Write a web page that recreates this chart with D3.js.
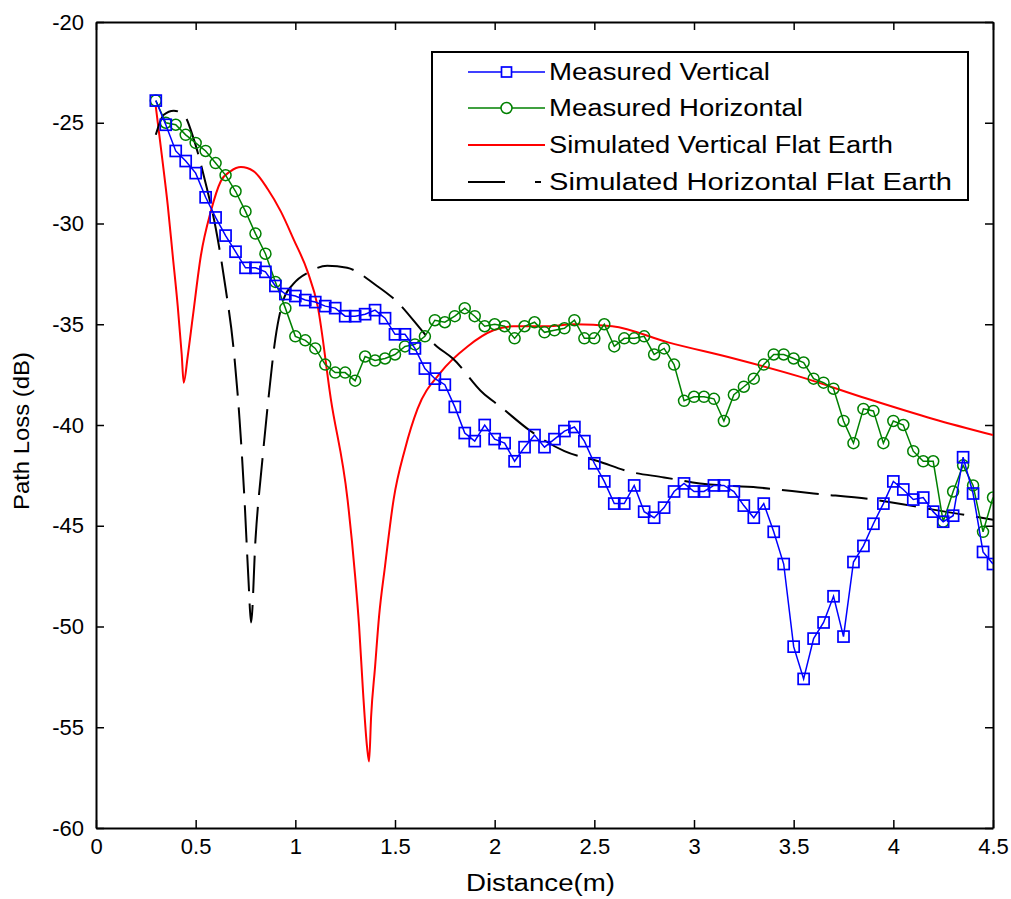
<!DOCTYPE html>
<html>
<head>
<meta charset="utf-8">
<script src="https://cdn.jsdelivr.net/npm/d3@7"></script>
<style>
  html, body { margin: 0; padding: 0; background: #fff; }
  svg text { font-family: "Liberation Sans", Arial, sans-serif; fill: #000; }
</style>
</head>
<body>
<svg id="chart" width="1011" height="899"></svg>
<script>
// ---------------- data ----------------
const xTicks = [0, 0.5, 1, 1.5, 2, 2.5, 3, 3.5, 4, 4.5];
const yTicks = [-60, -55, -50, -45, -40, -35, -30, -25, -20];

const measuredDistance = [0.30,0.35,0.40,0.45,0.50,0.55,0.60,0.65,0.70,0.75,0.80,0.85,0.90,0.95,1.00,1.05,1.10,1.15,1.20,1.25,1.30,1.35,1.40,1.45,1.50,1.55,1.60,1.65,1.70,1.75,1.80,1.85,1.90,1.95,2.00,2.05,2.10,2.15,2.20,2.25,2.30,2.35,2.40,2.45,2.50,2.55,2.60,2.65,2.70,2.75,2.80,2.85,2.90,2.95,3.00,3.05,3.10,3.15,3.20,3.25,3.30,3.35,3.40,3.45,3.50,3.55,3.60,3.65,3.70,3.75,3.80,3.85,3.90,3.95,4.00,4.05,4.10,4.15,4.20,4.25,4.30,4.35,4.40,4.45,4.50];

const measuredVertical = [-23.9,-25.1,-26.4,-26.9,-27.5,-28.7,-29.7,-30.6,-31.4,-32.2,-32.2,-32.4,-33.1,-33.5,-33.6,-33.8,-33.9,-34.1,-34.2,-34.6,-34.6,-34.5,-34.3,-34.7,-35.5,-35.5,-36.2,-37.2,-37.7,-38.0,-39.1,-40.4,-40.8,-40.0,-40.7,-40.9,-41.8,-41.1,-40.5,-41.1,-40.7,-40.3,-40.1,-40.8,-41.9,-42.8,-43.9,-43.9,-43.0,-44.3,-44.6,-44.1,-43.3,-42.9,-43.3,-43.3,-43.0,-43.0,-43.3,-44.0,-44.6,-43.9,-45.3,-46.9,-51.0,-52.6,-50.6,-49.8,-48.5,-50.5,-46.8,-46.0,-44.9,-43.9,-42.8,-43.2,-43.7,-43.6,-44.3,-44.8,-44.5,-41.6,-43.4,-46.3,-46.9];

const measuredHorizontal = [-23.9,-25.0,-25.1,-25.6,-26.0,-26.4,-27.0,-27.6,-28.4,-29.4,-30.5,-31.5,-32.9,-34.2,-35.6,-35.8,-36.2,-37.0,-37.4,-37.4,-37.8,-36.6,-36.8,-36.7,-36.5,-36.1,-36.0,-35.6,-34.8,-34.9,-34.6,-34.2,-34.6,-35.1,-35.0,-35.1,-35.7,-35.1,-34.9,-35.4,-35.3,-35.2,-34.8,-35.7,-35.7,-35.0,-36.1,-35.7,-35.7,-35.6,-36.5,-36.2,-37.0,-38.8,-38.6,-38.6,-38.7,-39.8,-38.5,-38.1,-37.7,-37.0,-36.5,-36.5,-36.7,-36.9,-37.7,-37.9,-38.2,-39.8,-40.9,-39.2,-39.3,-40.9,-39.8,-40.0,-41.3,-41.8,-41.8,-44.8,-43.3,-42.0,-43.0,-45.3,-43.6];

const simVertDistance = [0.30,0.33,0.36,0.385,0.41,0.43,0.44,0.46,0.486,0.526,0.576,0.626,0.676,0.727,0.79,0.862,0.927,0.992,1.062,1.112,1.178,1.262,1.30,1.32,1.34,1.36,1.37,1.38,1.40,1.42,1.45,1.493,1.55,1.613,1.728,1.864,1.994,2.094,2.264,2.40,2.59,2.87,3.20,3.53,3.87,4.20,4.50];
const simVertLoss = [-24.2,-26.6,-29.1,-31.6,-34.1,-36.5,-37.9,-36.6,-34.6,-31.6,-29.4,-27.9,-27.4,-27.2,-27.4,-28.3,-29.4,-30.8,-32.4,-34.1,-38.7,-43.7,-47.5,-50.0,-53.3,-56.0,-56.7,-54.5,-52.0,-49.5,-47.0,-43.7,-41.2,-39.2,-37.4,-36.1,-35.3,-35.1,-35.1,-35.0,-35.1,-35.9,-36.7,-37.6,-38.7,-39.7,-40.5];

const simHorzDistance = [0.30,0.34,0.39,0.44,0.49,0.55,0.60,0.65,0.69,0.72,0.745,0.765,0.778,0.80,0.835,0.865,0.90,0.94,0.99,1.07,1.16,1.26,1.41,1.49,1.71,1.79,1.94,2.03,2.18,2.35,2.52,2.67,2.85,3.03,3.32,3.60,3.90,4.20,4.50];
const simHorzLoss = [-25.6,-24.6,-24.4,-24.6,-25.8,-28.0,-30.2,-33.2,-36.2,-39.7,-43.7,-47.7,-49.8,-45.7,-41.7,-38.7,-35.7,-33.8,-33.0,-32.4,-32.1,-32.2,-33.1,-33.7,-36.1,-36.7,-38.4,-39.1,-40.3,-41.3,-41.8,-42.3,-42.6,-42.9,-43.1,-43.4,-43.7,-44.2,-44.7];

const seriesNames = ["Measured Vertical", "Measured Horizontal", "Simulated Vertical Flat Earth", "Simulated Horizontal Flat Earth"];
const seriesColors = ["#0000ff", "#008000", "#ff0000", "#000000"];

// ---------------- layout ----------------
const svg = d3.select("#chart");
const M = { left: 96, right: 993, top: 22, bottom: 828 };
const x = d3.scaleLinear().domain([0, 4.5]).range([M.left, M.right]);
const y = d3.scaleLinear().domain([-60, -20]).range([M.bottom, M.top]);
const fontSize = 22;

// clip
svg.append("defs").append("clipPath").attr("id", "clip")
  .append("rect").attr("x", M.left).attr("y", M.top)
  .attr("width", M.right - M.left).attr("height", M.bottom - M.top);

// axes
const fmt = d => String(d);
const gx = svg.append("g").attr("transform", `translate(0,${M.bottom})`)
  .call(d3.axisBottom(x).tickValues(xTicks).tickFormat(fmt).tickSizeInner(-8).tickSizeOuter(0).tickPadding(10));
const gxt = svg.append("g").attr("transform", `translate(0,${M.top})`)
  .call(d3.axisTop(x).tickValues(xTicks).tickFormat("").tickSizeInner(-8).tickSizeOuter(0));
const gy = svg.append("g").attr("transform", `translate(${M.left},0)`)
  .call(d3.axisLeft(y).tickValues(yTicks).tickFormat(fmt).tickSizeInner(-8).tickSizeOuter(0).tickPadding(12));
const gyr = svg.append("g").attr("transform", `translate(${M.right},0)`)
  .call(d3.axisRight(y).tickValues(yTicks).tickFormat("").tickSizeInner(-8).tickSizeOuter(0));
[gx, gxt, gy, gyr].forEach(g => {
  g.selectAll(".domain").attr("stroke", "#000").attr("stroke-width", 2);
  g.selectAll(".tick line").attr("stroke", "#000").attr("stroke-width", 1.5);
  g.selectAll("text").style("font-size", fontSize + "px").attr("fill", "#000");
});

// axis labels
svg.append("text").attr("x", 466).attr("y", 891)
  .attr("textLength", 149).attr("lengthAdjust", "spacingAndGlyphs")
  .style("font-size", "23px").text("Distance(m)");
svg.append("text").attr("transform", `translate(29,510) rotate(-90)`)
  .attr("textLength", 158).attr("lengthAdjust", "spacingAndGlyphs")
  .style("font-size", "22px").text("Path Loss (dB)");

const plot = svg.append("g").attr("clip-path", "url(#clip)");

// simulated curves
const simV = simVertDistance.map((d, i) => [d, simVertLoss[i]]);
const simH = simHorzDistance.map((d, i) => [d, simHorzLoss[i]]);
const smooth = d3.line().x(d => x(d[0])).y(d => y(d[1])).curve(d3.curveMonotoneX);

plot.append("path").datum(simV).attr("d", smooth)
  .attr("fill", "none").attr("stroke", seriesColors[2]).attr("stroke-width", 2);
plot.append("path").datum(simH).attr("d", smooth)
  .attr("fill", "none").attr("stroke", seriesColors[3]).attr("stroke-width", 2)
  .attr("stroke-dasharray", "37,12");

// measured series
const straight = d3.line().x(d => x(d[0])).y(d => y(d[1]));
const mv = measuredDistance.map((d, i) => [d, measuredVertical[i]]);
const mh = measuredDistance.map((d, i) => [d, measuredHorizontal[i]]);

plot.append("path").datum(mh).attr("d", straight)
  .attr("fill", "none").attr("stroke", seriesColors[1]).attr("stroke-width", 1.5);
plot.selectAll(".mh").data(mh).enter().append("circle")
  .attr("cx", d => x(d[0])).attr("cy", d => y(d[1])).attr("r", 5.5)
  .attr("fill", "none").attr("stroke", seriesColors[1]).attr("stroke-width", 1.5);

plot.append("path").datum(mv).attr("d", straight)
  .attr("fill", "none").attr("stroke", seriesColors[0]).attr("stroke-width", 1.5);
const sq = 11;
plot.selectAll(".mv").data(mv).enter().append("rect")
  .attr("x", d => x(d[0]) - sq / 2).attr("y", d => y(d[1]) - sq / 2)
  .attr("width", sq).attr("height", sq)
  .attr("fill", "none").attr("stroke", seriesColors[0]).attr("stroke-width", 1.7);

// legend
const L = { x: 432, y: 52, w: 536, h: 148 };
const lg = svg.append("g");
lg.append("rect").attr("x", L.x).attr("y", L.y).attr("width", L.w).attr("height", L.h)
  .attr("fill", "#fff").attr("stroke", "#000").attr("stroke-width", 2);
const rowY = [72, 108, 145, 182];
const textWidths = [221, 254, 344, 403];
const lx0 = 468, lx1 = 545, lxm = (lx0 + lx1) / 2;
seriesNames.forEach((name, i) => {
  const ry = rowY[i];
  const ln = lg.append("line").attr("x1", lx0).attr("x2", lx1).attr("y1", ry).attr("y2", ry)
    .attr("stroke", seriesColors[i]).attr("stroke-width", i >= 2 ? 2 : 1.5);
  if (i === 3) ln.attr("stroke-dasharray", "37,30,6,20");
  if (i === 0) lg.append("rect").attr("x", lxm - 5).attr("y", ry - 5).attr("width", 10).attr("height", 10)
    .attr("fill", "#fff").attr("stroke", seriesColors[0]).attr("stroke-width", 1.7);
  if (i === 1) lg.append("circle").attr("cx", lxm).attr("cy", ry).attr("r", 5.5)
    .attr("fill", "#fff").attr("stroke", seriesColors[1]).attr("stroke-width", 1.5);
  lg.append("text").attr("x", 549).attr("y", ry).attr("dy", "0.36em")
    .attr("textLength", textWidths[i]).attr("lengthAdjust", "spacingAndGlyphs")
    .style("font-size", "23px").text(name);
});
</script>
</body>
</html>
